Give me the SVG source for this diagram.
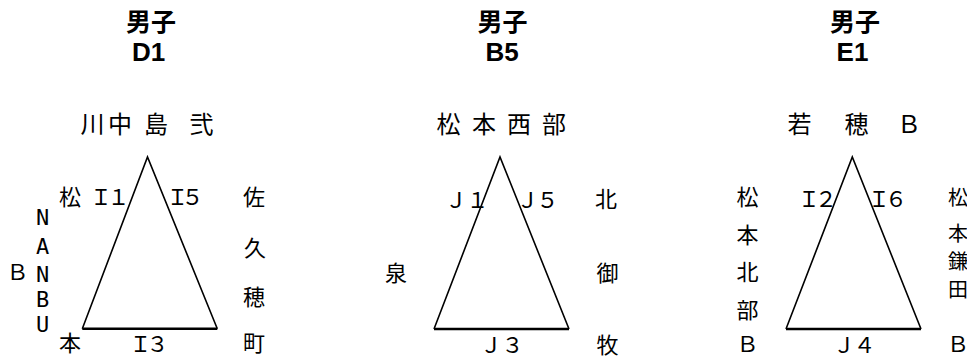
<svg xmlns="http://www.w3.org/2000/svg" width="967" height="359" viewBox="0 0 967 359">
<style>
.bg{fill:#ffffff}
.ttl{font-family:"Noto Sans CJK JP","Liberation Sans",sans-serif;font-weight:bold;font-size:25px;text-anchor:middle;fill:#000}
.code{font-family:"Liberation Sans","Noto Sans CJK JP",sans-serif;font-weight:bold;font-size:26px;text-anchor:middle;fill:#000}
.nm{font-family:"Noto Sans CJK JP",sans-serif;font-size:24px;text-anchor:middle;fill:#000}
.lb{font-family:"Noto Sans CJK JP",sans-serif;font-size:22px;text-anchor:middle;fill:#000}
.sm{font-size:20px}
.vt{font-family:"DejaVu Sans Mono","Liberation Mono",monospace;font-size:22px;text-anchor:middle;fill:#000}
.side{fill:none;stroke:#000;stroke-width:1.6;stroke-linejoin:miter}
.base{stroke:#000;stroke-width:2.6}
</style>
<rect class="bg" x="0" y="0" width="967" height="359"/>

<g id="titles">
<text class="ttl" x="151" y="31">男子</text>
<text class="code" x="148.5" y="61">D1</text>
<text class="ttl" x="502.5" y="31">男子</text>
<text class="code" x="502" y="61">B5</text>
<text class="ttl" x="855" y="31">男子</text>
<text class="code" x="852.5" y="61">E1</text>
</g>

<g id="connectors">
<path class="side" d="M82.3,328.7 L147.5,157 L217.3,328.7"/>
<line class="base" x1="82.3" y1="328.7" x2="217.3" y2="328.7"/>
<path class="side" d="M434,329 L500,157 L569,329"/>
<line class="base" x1="434" y1="329" x2="569" y2="329"/>
<path class="side" d="M786,329 L852.3,157 L921,329"/>
<line class="base" x1="786" y1="329" x2="921" y2="329"/>
</g>

<g id="pool-D1">
<text class="nm" x="92.5 120 156 201.5" y="133">川中島弐</text>
<text class="lb" x="70" y="205">松</text>
<text class="lb" x="70" y="351">本</text>
<text class="vt" x="42.5" y="225">N</text>
<text class="vt" x="42.5" y="254">A</text>
<text class="vt" x="42.5" y="282">N</text>
<text class="vt" x="42.5" y="307">B</text>
<text class="vt" x="42.5" y="332">U</text>
<text class="lb" x="17.5" y="280">Ｂ</text>
<text class="lb" x="101 118.5" y="205">Ｉ１</text>
<text class="lb" x="177.5 192.5" y="205">Ｉ５</text>
<text class="lb" x="140.5 157.5" y="352">Ｉ３</text>
<text class="lb" x="254" y="205">佐</text>
<text class="lb" x="255" y="256">久</text>
<text class="lb" x="254" y="305">穂</text>
<text class="lb" x="254" y="351">町</text>
</g>

<g id="pool-B5">
<text class="nm" x="448.5 484 519 554" y="133">松本西部</text>
<text class="lb" x="456 477.5" y="208">Ｊ１</text>
<text class="lb" x="527.5 547.5" y="208">Ｊ５</text>
<text class="lb" x="606" y="207">北</text>
<text class="lb" x="396" y="280.5">泉</text>
<text class="lb" x="607.5" y="280.5">御</text>
<text class="lb" x="607.5" y="353">牧</text>
<text class="lb" x="491 512.5" y="353">Ｊ３</text>
</g>

<g id="pool-E1">
<text class="nm" x="799.5 856.5 909" y="133">若穂Ｂ</text>
<text class="lb" x="747.5" y="205">松</text>
<text class="lb" x="747.5" y="243">本</text>
<text class="lb" x="747.5" y="280">北</text>
<text class="lb" x="747.5" y="318">部</text>
<text class="lb" x="747.5" y="352">Ｂ</text>
<text class="lb" x="809 826" y="207">Ｉ２</text>
<text class="lb" x="879 896" y="207">Ｉ６</text>
<text class="lb" x="844 864.5" y="353">Ｊ４</text>
<text class="lb sm" x="958" y="205">松</text>
<text class="lb sm" x="958" y="241">本</text>
<text class="lb sm" x="958" y="269">鎌</text>
<text class="lb sm" x="958" y="297">田</text>
<text class="lb" x="958" y="352">Ｂ</text>
</g>
</svg>
